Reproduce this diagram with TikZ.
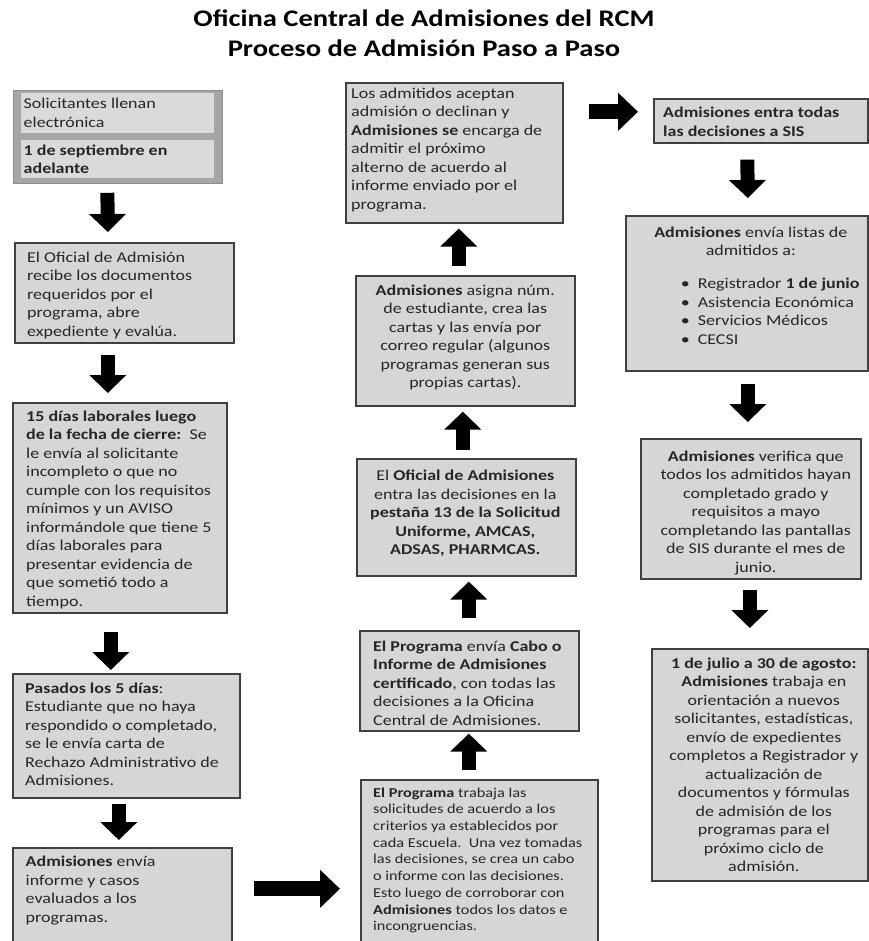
\documentclass[tikz,border=0pt]{standalone}
\usepackage{fontspec}
\setmainfont{Carlito}[FakeStretch=1.2]
\usetikzlibrary{arrows.meta,calc}
\definecolor{boxfill}{HTML}{D6D6D6}
\definecolor{boxline}{HTML}{404040}
\definecolor{framefill}{HTML}{A6A6A6}
\definecolor{framein}{HTML}{DADADA}
\definecolor{txt}{HTML}{262626}
\newcommand\bodyfont{\fontsize{15}{18.5}\selectfont}
\newcommand\smallbodyfont{\fontsize{13.6}{16.7}\selectfont}
\newcommand\titlefont{\fontsize{23.8}{29.5}\selectfont\bfseries}
\begin{document}
\begin{tikzpicture}[x=1pt,y=-1pt,
  box/.style={draw=boxline, line width=1.6pt, fill=boxfill, anchor=north west, inner sep=0pt},
  inbox/.style={draw=#1, line width=0.8pt, fill=framein, anchor=north west, inner sep=0pt},
  inbox/.default={framein},
  ltext/.style={anchor=west, align=left, inner sep=0pt, font=\bodyfont, text=txt},
  ctext/.style={anchor=center, align=center, inner sep=0pt, font=\bodyfont, text=txt},
  barrow/.style={draw=black, line width=14pt, -{Triangle[width=36pt,length=18pt]}},
  harrow/.style={draw=black, line width=15pt, -{Triangle[width=37pt,length=20pt]}},
]
\useasboundingbox (0,0) rectangle (868,941);
\fill[white] (0,0) rectangle (868,941);

% title
\node[font=\titlefont, align=center, text=black, inner sep=0pt] (title) at (424,33)
  {Oficina Central de Admisiones del RCM\\Proceso de Admisión Paso a Paso};

% ---------- left column ----------
\node[draw=framefill!85!black, line width=0.8pt, fill=framefill, anchor=north west,
      inner sep=0pt, minimum width=209pt, minimum height=93pt] (L1) at (13,90) {};
\node[inbox, minimum width=192pt, minimum height=39pt] (L1a) at (21,93) {};
\node[inbox, minimum width=192pt, minimum height=37pt] (L1b) at (21,140) {};
\node[ltext] (L1at) at ($(L1a.west)+(2.5,0)$) {Solicitantes llenan\\electrónica};
\node[ltext] (L1bt) at ($(L1b.west)+(2.5,0.5)$) {\textbf{1 de septiembre en}\\\textbf{adelante}};

\node[box, minimum width=219pt, minimum height=100pt] (L2) at (14,242) {};
\node[ltext] (L2t) at ($(L2.west)+(13,2.5)$)
  {El Oficial de Admisión\\recibe los documentos\\requeridos por el\\programa, abre\\expediente y evalúa.};

\node[box, minimum width=214pt, minimum height=210pt] (L3) at (12,402) {};
\node[ltext] (L3t) at ($(L3.west)+(14,2)$)
  {\textbf{15 días laborales luego}\\\textbf{de la fecha de cierre:}\ \ Se\\le envía al solicitante\\incompleto o que no\\cumple con los requisitos\\mínimos y un AVISO\\informándole que tiene 5\\días laborales para\\presentar evidencia de\\que sometió todo a\\tiempo.};

\node[box, minimum width=227pt, minimum height=124pt] (L4) at (12,673) {};
\node[ltext] (L4t) at ($(L4.west)+(13,-1.5)$)
  {\textbf{Pasados los 5 días}:\\Estudiante que no haya\\respondido o completado,\\se le envía carta de\\Rechazo Administrativo de\\Admisiones.};

\node[box, minimum width=219pt, minimum height=97pt] (L5) at (12,847) {};
\node[ltext] (L5t) at ($(L5.west)+(13.5,-6)$)
  {\textbf{Admisiones} envía\\informe y casos\\evaluados a los\\programas.};

% ---------- middle column ----------
\node[box, minimum width=217pt, minimum height=140pt] (M1) at (345,82) {};
\node[ltext] (M1t) at ($(M1.west)+(6,-3)$)
  {Los admitidos aceptan\\admisión o declinan y\\\textbf{Admisiones se} encarga de\\admitir el próximo\\alterno de acuerdo al\\informe enviado por el\\programa.};

\node[box, minimum width=219pt, minimum height=130pt] (M2) at (355,275) {};
\node[ctext] (M2t) at ($(M2.center)+(0,-3.5)$)
  {\textbf{Admisiones} asigna núm.\\de estudiante, crea las\\cartas y las envía por\\correo regular (algunos\\programas generan sus\\propias cartas).};

\node[box, minimum width=219pt, minimum height=117pt] (M3) at (356,458) {};
\node[ctext] (M3t) at ($(M3.center)+(-1,-4)$)
  {El \textbf{Oficial de Admisiones}\\entra las decisiones en la\\\textbf{pestaña 13 de la Solicitud}\\\textbf{Uniforme, AMCAS,}\\\textbf{ADSAS, PHARMCAS.}};

\node[box, minimum width=219pt, minimum height=100pt] (M4) at (359,630) {};
\node[ltext] (M4t) at ($(M4.west)+(14,2)$)
  {\textbf{El Programa} envía \textbf{Cabo o}\\\textbf{Informe de Admisiones}\\\textbf{certificado}, con todas las\\decisiones a la Oficina\\Central de Admisiones.};

\node[box, minimum width=237pt, minimum height=165pt] (M5) at (360,779) {};
\node[ltext, font=\smallbodyfont] (M5t) at ($(M5.west)+(13,-2)$)
  {\textbf{El Programa} trabaja las\\solicitudes de acuerdo a los\\criterios ya establecidos por\\cada Escuela.\ \ Una vez tomadas\\las decisiones, se crea un cabo\\o informe con las decisiones.\\Esto luego de corroborar con\\\textbf{Admisiones} todos los datos e\\incongruencias.};

% ---------- right column ----------
\node[box, minimum width=214pt, minimum height=44pt] (R1) at (653,98) {};
\node[ltext] (R1t) at ($(R1.west)+(10,1)$)
  {\textbf{Admisiones entra todas}\\\textbf{las decisiones a SIS}};

\node[box, minimum width=242pt, minimum height=155pt] (R2) at (625,215) {};
\node[ctext] (R2t) at ($(R2.center)+(4,-8)$)
  {\textbf{Admisiones} envía listas de\\admitidos a:\\[14.5pt]
   \makebox[140pt][l]{\makebox[17pt][l]{\textbullet}Registrador \textbf{1 de junio}}\\
   \makebox[140pt][l]{\makebox[17pt][l]{\textbullet}Asistencia Económica}\\
   \makebox[140pt][l]{\makebox[17pt][l]{\textbullet}Servicios Médicos}\\
   \makebox[140pt][l]{\makebox[17pt][l]{\textbullet}CECSI}};

\node[box, minimum width=220pt, minimum height=140pt] (R3) at (640,438) {};
\node[ctext] (R3t) at ($(R3.center)+(5,4)$)
  {\textbf{Admisiones} verifica que\\todos los admitidos hayan\\completado grado y\\requisitos a mayo\\completando las pantallas\\de SIS durante el mes de\\junio.};

\node[box, minimum width=216pt, minimum height=232pt] (R4) at (651,648) {};
\node[ctext] (R4t) at ($(R4.center)+(4,0)$)
  {\textbf{1 de julio a 30 de agosto:}\\\textbf{Admisiones} trabaja en\\orientación a nuevos\\solicitantes, estadísticas,\\envío de expedientes\\completos a Registrador y\\actualización de\\documentos y fórmulas\\de admisión de los\\programas para el\\próximo ciclo de\\admisión.};

% ---------- block arrows ----------
\draw[barrow] ($(L1.south)+(-10.5,9)$) -- ($(L2.north)+(-16.5,-10)$);
\draw[barrow] ($(L2.south)+(-16.5,11)$) -- ($(L3.north)+(-12,-9)$);
\draw[barrow] ($(L3.south)+(-9,18)$) -- ($(L4.north)+(-15.5,-3)$);
\draw[barrow] ($(L4.south)+(-7.5,5)$) -- ($(L5.north)+(-3.5,-7)$);
\draw[harrow] ($(L5.east)+(21,-7.5)$) -- ($(M5.west)+(-20,26.5)$);
\draw[barrow] ($(M5.north)+(-10.5,-9)$) -- ($(M4.south)+(-0.5,2)$);
\draw[barrow] ($(M4.north)+(-0.5,-12)$) -- ($(M3.south)+(2.5,5)$);
\draw[barrow] ($(M3.north)+(-3.5,-8)$) -- ($(M2.south)+(-2.5,5)$);
\draw[barrow] ($(M2.north)+(-6.5,-9)$) -- ($(M1.south)+(4.5,5)$);
\draw[harrow] ($(M1.east)+(25,-41)$) -- ($(R1.west)+(-15,-9)$);
\draw[barrow] ($(R1.south)+(-13.5,16)$) -- ($(R2.north)+(1,-17)$);
\draw[barrow] ($(R2.south)+(1,12)$) -- ($(R3.north)+(-3,-16)$);
\draw[barrow] ($(R3.south)+(-1,10)$) -- ($(R4.north)+(-10,-20)$);
\end{tikzpicture}
\end{document}
